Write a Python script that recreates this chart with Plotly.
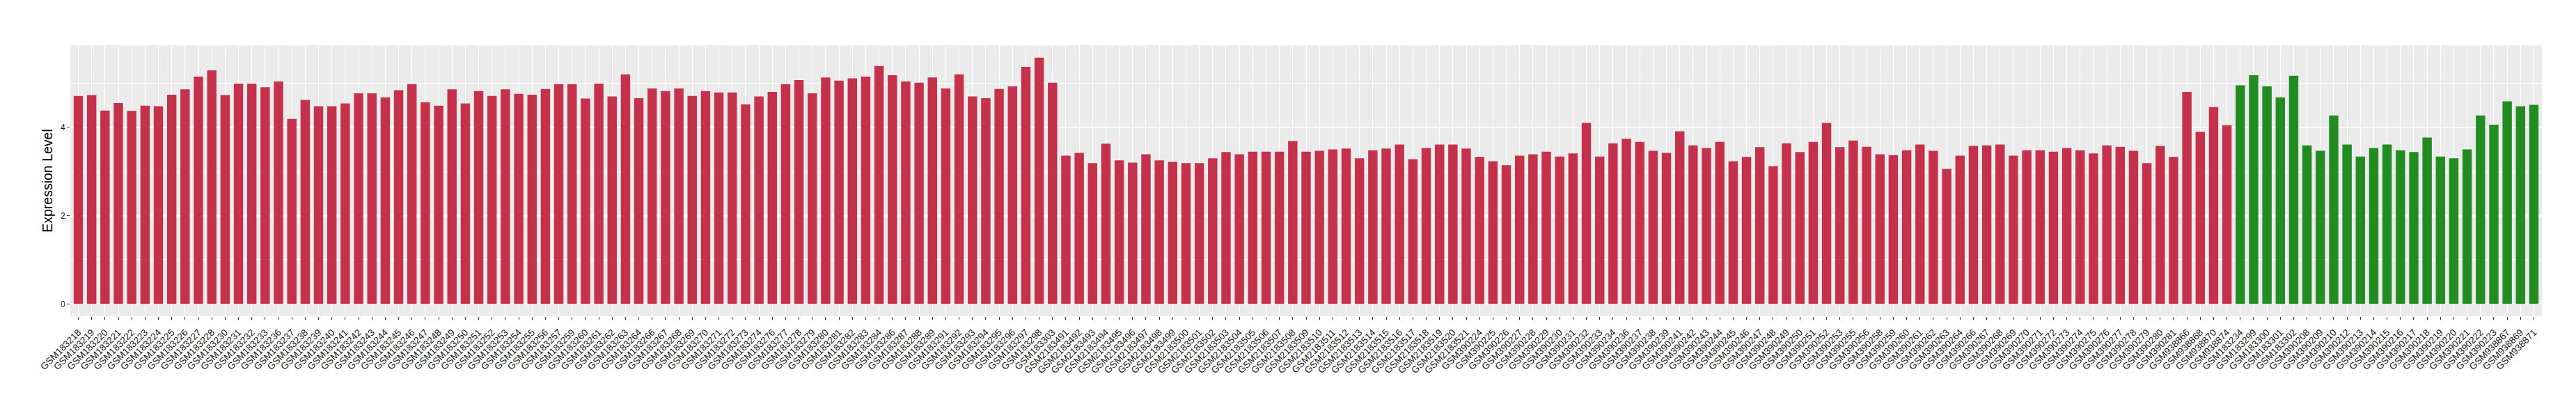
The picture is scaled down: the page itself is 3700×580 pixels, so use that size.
import plotly.graph_objects as go

# ---- data ----
red_samples = [
    "GSM183218", "GSM183219", "GSM183220", "GSM183221", "GSM183222", "GSM183223", "GSM183224",
    "GSM183225", "GSM183226", "GSM183227", "GSM183228", "GSM183230", "GSM183231", "GSM183232",
    "GSM183233", "GSM183236", "GSM183237", "GSM183238", "GSM183239", "GSM183240", "GSM183241",
    "GSM183242", "GSM183243", "GSM183244", "GSM183245", "GSM183246", "GSM183247", "GSM183248",
    "GSM183249", "GSM183250", "GSM183251", "GSM183252", "GSM183253", "GSM183254", "GSM183255",
    "GSM183256", "GSM183257", "GSM183259", "GSM183260", "GSM183261", "GSM183262", "GSM183263",
    "GSM183264", "GSM183266", "GSM183267", "GSM183268", "GSM183269", "GSM183270", "GSM183271",
    "GSM183272", "GSM183273", "GSM183274", "GSM183276", "GSM183277", "GSM183278", "GSM183279",
    "GSM183280", "GSM183281", "GSM183282", "GSM183283", "GSM183284", "GSM183286", "GSM183287",
    "GSM183288", "GSM183289", "GSM183291", "GSM183292", "GSM183293", "GSM183294", "GSM183295",
    "GSM183296", "GSM183297", "GSM183298", "GSM183303",
    "GSM2183491", "GSM2183492", "GSM2183493", "GSM2183494", "GSM2183495", "GSM2183496",
    "GSM2183497", "GSM2183498", "GSM2183499", "GSM2183500", "GSM2183501", "GSM2183502",
    "GSM2183503", "GSM2183504", "GSM2183505", "GSM2183506", "GSM2183507", "GSM2183508",
    "GSM2183509", "GSM2183510", "GSM2183511", "GSM2183512", "GSM2183513", "GSM2183514",
    "GSM2183515", "GSM2183516", "GSM2183517", "GSM2183518", "GSM2183519", "GSM2183520",
    "GSM2183521",
    "GSM390224", "GSM390225", "GSM390226", "GSM390227", "GSM390228", "GSM390229", "GSM390230",
    "GSM390231", "GSM390232", "GSM390233", "GSM390234", "GSM390236", "GSM390237", "GSM390238",
    "GSM390239", "GSM390241", "GSM390242", "GSM390243", "GSM390244", "GSM390245", "GSM390246",
    "GSM390247", "GSM390248", "GSM390249", "GSM390250", "GSM390251", "GSM390252", "GSM390253",
    "GSM390255", "GSM390256", "GSM390258", "GSM390259", "GSM390260", "GSM390261", "GSM390262",
    "GSM390263", "GSM390264", "GSM390266", "GSM390267", "GSM390268", "GSM390269", "GSM390270",
    "GSM390271", "GSM390272", "GSM390273", "GSM390274", "GSM390275", "GSM390276", "GSM390277",
    "GSM390278", "GSM390279", "GSM390280", "GSM390281",
    "GSM938866", "GSM938868", "GSM938870", "GSM938874",
]
red_values = [
    4.71, 4.73, 4.38, 4.55, 4.37, 4.49, 4.48,
    4.74, 4.86, 5.15, 5.29, 4.73, 4.99, 4.99,
    4.91, 5.04, 4.19, 4.62, 4.48, 4.48, 4.54,
    4.77, 4.77, 4.68, 4.84, 4.98, 4.57, 4.49,
    4.86, 4.54, 4.82, 4.71, 4.86, 4.76, 4.74,
    4.87, 4.98, 4.98, 4.65, 4.99, 4.70, 5.20,
    4.66, 4.88, 4.82, 4.88, 4.71, 4.82, 4.79,
    4.79, 4.52, 4.70, 4.80, 4.98, 5.07, 4.77,
    5.13, 5.06, 5.11, 5.15, 5.39, 5.18, 5.04,
    5.01, 5.13, 4.88, 5.20, 4.70, 4.66, 4.87,
    4.93, 5.37, 5.58, 5.01,
    3.36, 3.42, 3.19, 3.63, 3.25, 3.20,
    3.39, 3.25, 3.22, 3.19, 3.19, 3.30,
    3.44, 3.39, 3.45, 3.45, 3.45, 3.69,
    3.45, 3.47, 3.50, 3.52, 3.30, 3.48,
    3.52, 3.61, 3.28, 3.53, 3.61, 3.61,
    3.52,
    3.33, 3.23, 3.14, 3.36, 3.39, 3.45, 3.34,
    3.41, 4.10, 3.34, 3.64, 3.74, 3.67, 3.47,
    3.42, 3.91, 3.59, 3.53, 3.67, 3.23, 3.33,
    3.55, 3.12, 3.64, 3.44, 3.67, 4.10, 3.55,
    3.70, 3.56, 3.39, 3.37, 3.48, 3.61, 3.47,
    3.06, 3.36, 3.58, 3.59, 3.61, 3.36, 3.48,
    3.48, 3.45, 3.53, 3.48, 3.41, 3.59, 3.56,
    3.47, 3.19, 3.58, 3.33,
    4.80, 3.90, 4.46, 4.05,
]
green_samples = [
    "GSM183234", "GSM183299", "GSM183300", "GSM183301", "GSM183302",
    "GSM390208", "GSM390209", "GSM390210", "GSM390212", "GSM390213", "GSM390214",
    "GSM390215", "GSM390216", "GSM390217", "GSM390218", "GSM390219", "GSM390220",
    "GSM390221", "GSM390222", "GSM390223",
    "GSM938867", "GSM938869", "GSM938871",
]
green_values = [
    4.95, 5.18, 4.93, 4.68, 5.17,
    3.59, 3.47, 4.27, 3.61, 3.34, 3.53,
    3.61, 3.48, 3.44, 3.77, 3.34, 3.30,
    3.50, 4.27, 4.06,
    4.59, 4.48, 4.51,
]
y_ticks = [0, 2, 4]

assert len(red_samples) == len(red_values)
assert len(green_samples) == len(green_values)

RED = "#C3314A"
GREEN = "#228B22"
FONT = "Liberation Sans, Arial, Helvetica, sans-serif"

all_samples = red_samples + green_samples
n = len(all_samples)
ymax = max(red_values + green_values)

fig = go.Figure()
fig.add_trace(go.Bar(x=red_samples, y=red_values, marker=dict(color=RED, line=dict(width=0)),
                     showlegend=False))
fig.add_trace(go.Bar(x=green_samples, y=green_values, marker=dict(color=GREEN, line=dict(width=0)),
                     showlegend=False))

fig.update_layout(
    width=3700, height=580,
    margin=dict(l=93, r=57, t=57, b=134, autoexpand=False),
    paper_bgcolor="white",
    plot_bgcolor="#EBEBEB",
    barmode="overlay",
    bargap=0.3,
    font=dict(family=FONT, color="black"),
)
fig.update_xaxes(
    type="category",
    categoryorder="array", categoryarray=all_samples,
    range=[-0.6, n - 1 + 0.6],
    showgrid=True, gridcolor="white", gridwidth=1.3,
    zeroline=False, showline=False,
    ticks="outside", ticklen=4, tickwidth=1, tickcolor="#333333",
    tickangle=-45,
    ticklabelstandoff=5,
    tickfont=dict(size=13.5, color="#1A1A1A", family=FONT),
    automargin=False,
)
fig.update_yaxes(
    range=[-0.05 * ymax, 1.05 * ymax],
    tickmode="array", tickvals=y_ticks, ticktext=[str(v) for v in y_ticks],
    showgrid=True, gridcolor="white", gridwidth=1.8,
    minor=dict(dtick=1, tick0=0, showgrid=True, gridcolor="white", gridwidth=0.8, ticks=""),
    zeroline=False, showline=False,
    ticks="outside", ticklen=4, tickwidth=1, tickcolor="#333333",
    tickfont=dict(size=12, color="#1A1A1A", family=FONT),
    title=dict(text="Expression Level", font=dict(size=19.5, color="black", family=FONT), standoff=6),
    automargin=False,
)

fig.write_html("out.html")
